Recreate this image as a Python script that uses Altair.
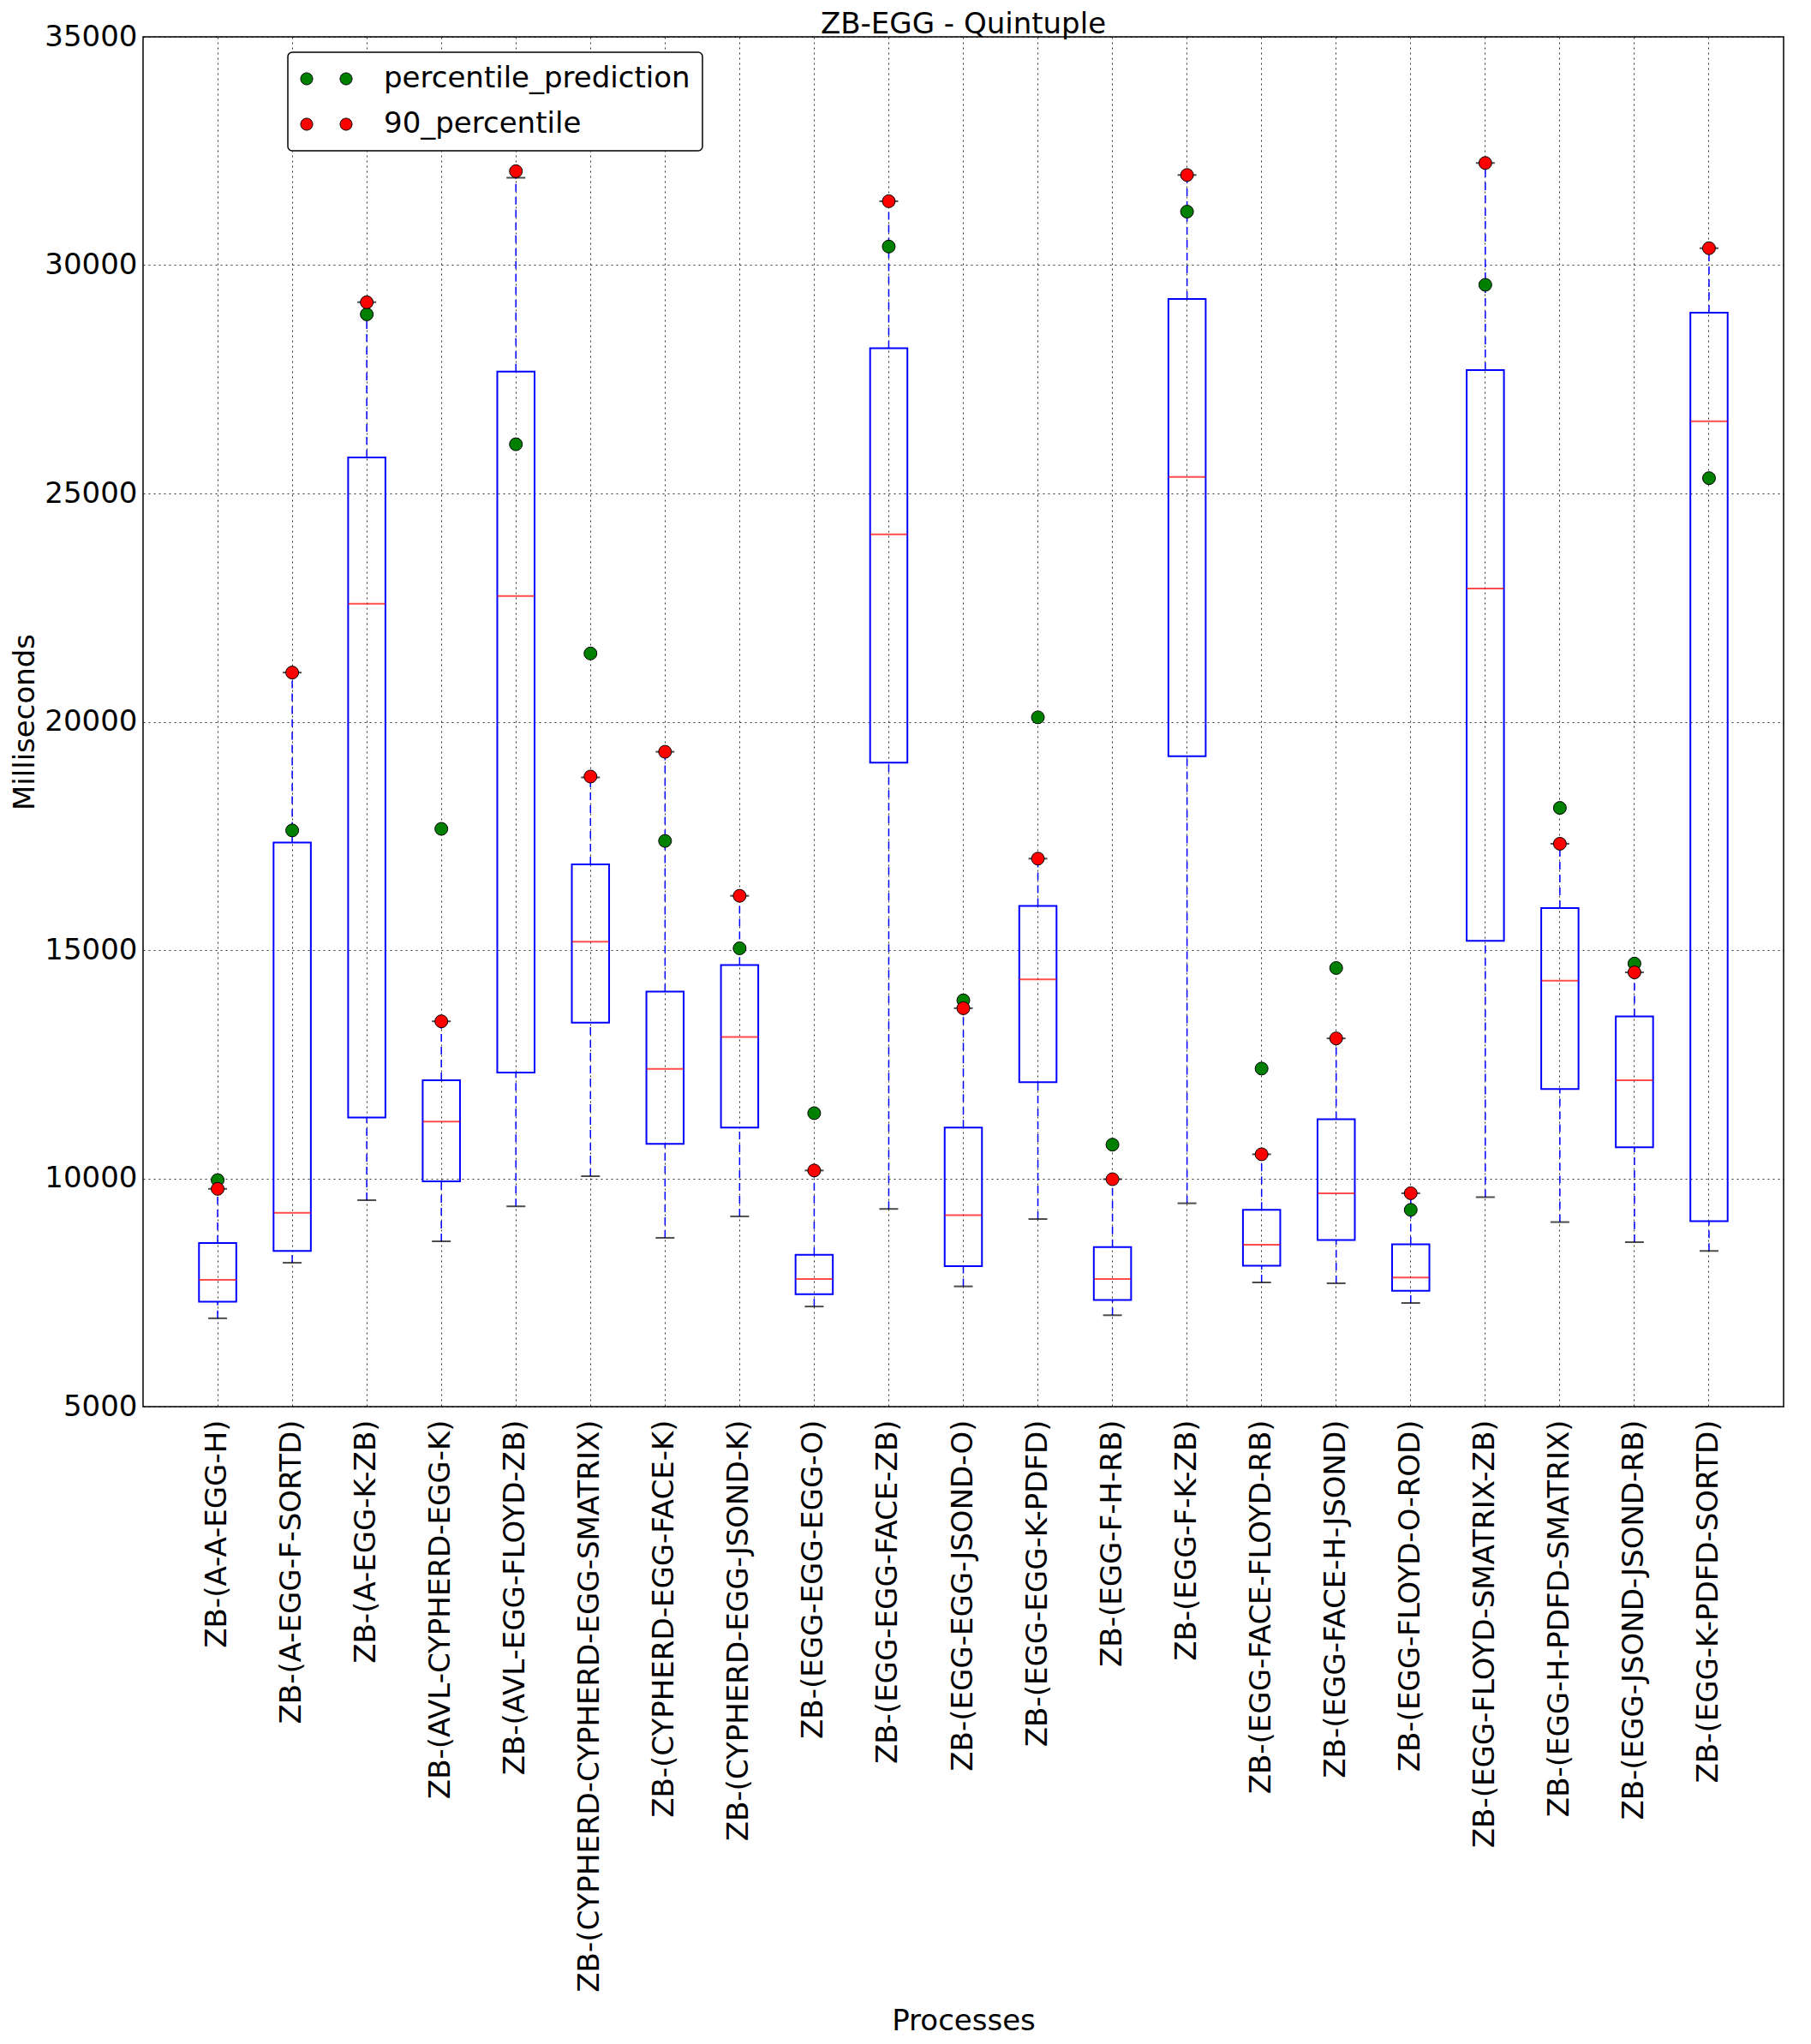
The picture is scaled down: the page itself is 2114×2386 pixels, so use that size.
import altair as alt
import pandas as pd

categories = [
    "ZB-(A-A-EGG-H)",
    "ZB-(A-EGG-F-SORTD)",
    "ZB-(A-EGG-K-ZB)",
    "ZB-(AVL-CYPHERD-EGG-K)",
    "ZB-(AVL-EGG-FLOYD-ZB)",
    "ZB-(CYPHERD-CYPHERD-EGG-SMATRIX)",
    "ZB-(CYPHERD-EGG-FACE-K)",
    "ZB-(CYPHERD-EGG-JSOND-K)",
    "ZB-(EGG-EGG-EGG-O)",
    "ZB-(EGG-EGG-FACE-ZB)",
    "ZB-(EGG-EGG-JSOND-O)",
    "ZB-(EGG-EGG-K-PDFD)",
    "ZB-(EGG-F-H-RB)",
    "ZB-(EGG-F-K-ZB)",
    "ZB-(EGG-FACE-FLOYD-RB)",
    "ZB-(EGG-FACE-H-JSOND)",
    "ZB-(EGG-FLOYD-O-ROD)",
    "ZB-(EGG-FLOYD-SMATRIX-ZB)",
    "ZB-(EGG-H-PDFD-SMATRIX)",
    "ZB-(EGG-JSOND-JSOND-RB)",
    "ZB-(EGG-K-PDFD-SORTD)",
]

whisker_low = [6935, 8151, 9521, 8621, 9387, 10048, 8697, 9167, 7193, 9330, 7634,
               9109, 7002, 9454, 7720, 7701, 7270, 9588, 9042, 8602, 8410]
q1 = [7299, 8410, 11332, 9933, 12318, 13410, 10757, 11111, 7462, 19103, 8075,
      12107, 7337, 19246, 8084, 8649, 7538, 15201, 11954, 10680, 9061]
median = [7778, 9243, 22584, 11245, 22751, 15182, 12395, 13094, 7797, 24103, 9195,
          14358, 7797, 25359, 8544, 9674, 7826, 22919, 14330, 12146, 26579]
q3 = [8582, 17356, 25789, 12146, 27667, 16877, 14090, 14674, 8324, 28182, 11111,
      15968, 8496, 29258, 9310, 11293, 8554, 27703, 15920, 13544, 28959]
whisker_high = [9770, 21077, 29187, 13439, 31914, 18780, 19342, 16188, 10172, 31400, 13726,
                17002, 9981, 31974, 10527, 13065, 9674, 32237, 17328, 14511, 30371]

percentile_prediction = [9962, 17620, 28923, 17654, 26077, 21495, 17390, 15038, 11427, 30407, 13899,
                         20096, 10738, 31172, 12404, 14607, 9310, 29569, 18113, 14703, 25335]
percentile_90 = [9770, 21077, 29187, 13439, 32057, 18800, 19342, 16188, 10172, 31400, 13726,
                 17002, 9981, 31974, 10527, 13065, 9674, 32237, 17328, 14511, 30371]

series_names = ["percentile_prediction", "90_percentile"]
series_colors = ["#008000", "#ff0000"]

box_df = pd.DataFrame({
    "process": categories,
    "wlo": whisker_low,
    "q1": q1,
    "med": median,
    "q3": q3,
    "whi": whisker_high,
})

rows = []
for i, c in enumerate(categories):
    rows.append({"process": c, "series": series_names[0], "value": percentile_prediction[i], "ord": 0})
for i, c in enumerate(categories):
    rows.append({"process": c, "series": series_names[1], "value": percentile_90[i], "ord": 1})
pts_df = pd.DataFrame(rows)

FONT = "DejaVu Sans"

x_enc = alt.X(
    "process:N",
    sort=categories,
    scale=alt.Scale(domain=categories, paddingInner=0.5, paddingOuter=0.75),
    axis=alt.Axis(
        title="Processes",
        labelAngle=270,
        labelLimit=1000,
        labelOverlap=False,
        labelPadding=15,
        grid=True,
        bandPosition=0.5,
        titleBaseline="alphabetic",
        titleY=727,
    ),
)

y_scale = alt.Scale(domain=[5000, 35000], nice=False, zero=False)
y_axis = alt.Axis(
    title="Milliseconds",
    values=[5000, 10000, 15000, 20000, 25000, 30000, 35000],
    format="d",
    labelPadding=7,
    labelFlush=False,
    labelOverlap=False,
    titlePadding=5,
)

base = alt.Chart(box_df)

whisk_lo = base.mark_rule(color="#0000ff", strokeDash=[9, 6], strokeWidth=1.5).encode(
    x=x_enc, y=alt.Y("wlo:Q", scale=y_scale, axis=y_axis), y2="q1:Q"
)
whisk_hi = base.mark_rule(color="#0000ff", strokeDash=[9, 6], strokeWidth=1.5).encode(
    x=x_enc, y=alt.Y("q3:Q", scale=y_scale), y2="whi:Q"
)
cap_lo = base.mark_tick(color="black", size=22, thickness=2).encode(
    x=x_enc, y=alt.Y("wlo:Q", scale=y_scale)
)
cap_hi = base.mark_tick(color="black", size=22, thickness=2).encode(
    x=x_enc, y=alt.Y("whi:Q", scale=y_scale)
)
boxes = base.mark_bar(fill="white", fillOpacity=0, stroke="#0000ff", strokeWidth=2).encode(
    x=x_enc, y=alt.Y("q1:Q", scale=y_scale), y2="q3:Q"
)
medians = base.mark_tick(color="#ff0000", size=43, thickness=2).encode(
    x=x_enc, y=alt.Y("med:Q", scale=y_scale)
)

legend_path = ("M-1,0A0.4375,0.4375,0,1,1,-0.125,0A0.4375,0.4375,0,1,1,-1,0Z "
               "M1.875,0A0.4375,0.4375,0,1,1,2.75,0A0.4375,0.4375,0,1,1,1.875,0Z")

points = alt.Chart(pts_df).mark_circle(size=225, stroke="black", strokeWidth=1, opacity=1).encode(
    x=x_enc,
    y=alt.Y("value:Q", scale=y_scale),
    color=alt.Color(
        "series:N",
        scale=alt.Scale(domain=series_names, range=series_colors),
        legend=alt.Legend(
            title=None,
            orient="none",
            legendX=169,
            legendY=18,
            direction="vertical",
            symbolType=legend_path,
            symbolSize=1024,
            symbolStrokeColor="black",
            symbolStrokeWidth=1,
            symbolOpacity=1,
            labelOffset=64,
            labelLimit=1000,
            rowPadding=19,
            padding=14,
            strokeColor="black",
            fillColor="white",
            cornerRadius=5,
        ),
    ),
    order=alt.Order("ord:Q"),
)

chart = alt.layer(whisk_lo, whisk_hi, cap_lo, cap_hi, boxes, medians, points).properties(
    width=1915,
    height=1599,
    title=alt.TitleParams("ZB-EGG - Quintuple", baseline="alphabetic", offset=-47),
    autosize=alt.AutoSizeParams(type="none"),
    padding={"left": 159, "top": 35, "right": 20, "bottom": 740},
).configure_view(
    stroke="black", strokeWidth=1.5
).configure_axis(
    labelFont=FONT,
    titleFont=FONT,
    labelFontSize=34,
    titleFontSize=34,
    labelColor="black",
    titleColor="black",
    titleFontWeight="normal",
    gridColor="black",
    gridDash=[2, 4],
    gridOpacity=0.8,
    gridWidth=1,
    ticks=False,
    tickSize=0,
    domain=False,
).configure_title(
    font=FONT, fontSize=34, fontWeight="normal", color="black"
).configure_legend(
    labelFont=FONT, labelFontSize=34, labelColor="black", strokeWidth=1.5
)

chart.save("out.html", embed_options={"renderer": "svg", "actions": False})
